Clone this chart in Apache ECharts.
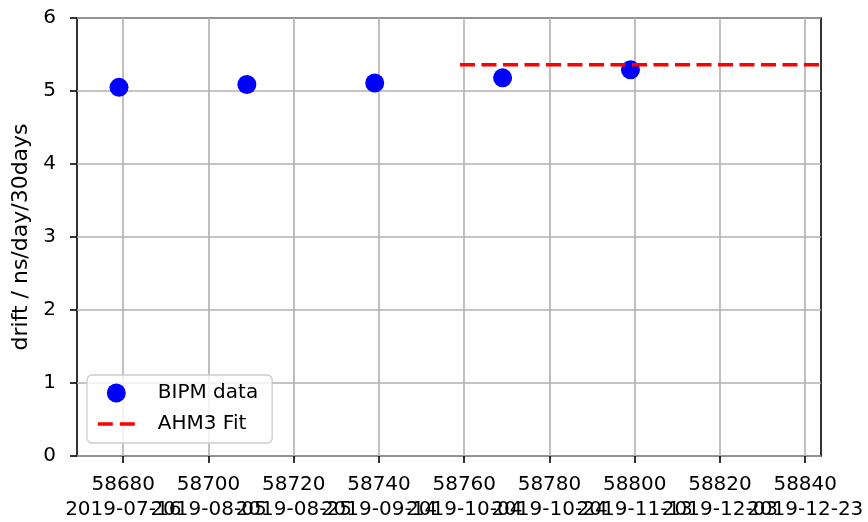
<!DOCTYPE html>
<html>
<head>
<meta charset="utf-8">
<script src="https://cdn.jsdelivr.net/npm/echarts@6/dist/echarts.min.js"></script>
<style>html,body{margin:0;padding:0;background:#fff}#c{width:868px;height:522px}</style>
</head>
<body>
<div id="c"></div>
<script>
// Data
const bipmMJD = [58679, 58709, 58739, 58769, 58799];
const bipmDrift = [5.05, 5.09, 5.11, 5.18, 5.29];
const fitMJD = [58759, 58844];
const fitDrift = [5.36, 5.36];
const xTicks = [58680, 58700, 58720, 58740, 58760, 58780, 58800, 58820, 58840];
const dateLabels = ['2019-07-16', '2019-08-05', '2019-08-25', '2019-09-14', '2019-10-04', '2019-10-24', '2019-11-13', '2019-12-03', '2019-12-23'];
const yTicks = [0, 1, 2, 3, 4, 5, 6];

const FONT = 'DejaVu Sans';
const FS = 20;
const XMIN = 58669.15, XMAX = 58843.7;
const LABEL_MARGIN = 19;

// date labels split over two label rows at identical position so none is dropped for overlap
const evenTicks = xTicks.filter((_, i) => i % 2 === 0);
const oddTicks = xTicks.filter((_, i) => i % 2 === 1);
const dateFmt = v => { const i = xTicks.indexOf(Math.round(v)); return i >= 0 ? dateLabels[i] : ''; };
function dateAxis(ticks) {
  return {
    type: 'value', min: XMIN, max: XMAX, position: 'bottom', offset: 25,
    axisLine: {show: false}, axisTick: {show: false, customValues: ticks}, splitLine: {show: false},
    axisLabel: {customValues: ticks, margin: LABEL_MARGIN, color: '#000', fontFamily: FONT, fontSize: FS,
      showMinLabel: true, showMaxLabel: true, hideOverlap: false, formatter: dateFmt}
  };
}

const chart = echarts.init(document.getElementById('c'), null, {renderer: 'canvas'});
chart.setOption({
  animation: false,
  backgroundColor: '#fff',
  textStyle: {fontFamily: FONT},
  grid: {left: 77, right: 47, top: 18, bottom: 66, containLabel: false, outerBoundsMode: 'none',
         show: true, borderColor: '#000', borderWidth: 1.6, backgroundColor: 'transparent'},
  legend: {
    orient: 'vertical', left: 87, top: 375,
    itemWidth: 37, itemHeight: 19, itemGap: 11,
    padding: [8, 14, 9, 9],
    backgroundColor: 'rgba(255,255,255,0.8)', borderColor: '#cccccc', borderWidth: 1.3, borderRadius: 5,
    textStyle: {fontFamily: FONT, fontSize: FS, lineHeight: 19, color: '#000', padding: [0, 0, 0, 18]},
    data: [
      {name: 'BIPM data', icon: 'circle'},
      {name: 'AHM3 Fit', itemStyle: {opacity: 0, color: 'rgba(0,0,0,0)'}, lineStyle: {color: '#ff0000', width: 3.6, type: [15, 7], opacity: 1}}
    ]
  },
  xAxis: [{
    type: 'value', min: XMIN, max: XMAX,
    axisLine: {show: false},
    axisTick: {show: true, length: 7, inside: false, customValues: xTicks, lineStyle: {color: '#000', width: 1.6}},
    axisLabel: {customValues: xTicks, margin: LABEL_MARGIN, color: '#000', fontFamily: FONT, fontSize: FS,
      showMinLabel: true, showMaxLabel: true, hideOverlap: false, formatter: v => String(v)},
    splitLine: {show: true, lineStyle: {color: '#b0b0b0', width: 1.6}}
  }, dateAxis(evenTicks), dateAxis(oddTicks)],
  yAxis: {
    type: 'value', min: 0, max: 6, interval: 1,
    name: 'drift / ns/day/30days', nameLocation: 'middle', nameGap: 39, nameRotate: 90,
    nameTextStyle: {fontFamily: FONT, fontSize: 22, color: '#000'},
    axisLine: {show: false},
    axisTick: {show: true, length: 7, lineStyle: {color: '#000', width: 1.6}},
    axisLabel: {margin: 21, color: '#000', fontFamily: FONT, fontSize: FS, formatter: v => yTicks.includes(v) ? String(v) : ''},
    splitLine: {show: true, lineStyle: {color: '#b0b0b0', width: 1.6}}
  },
  series: [{
    name: 'BIPM data', type: 'scatter', symbol: 'circle', symbolSize: 19,
    itemStyle: {color: '#0000ff', opacity: 1},
    data: bipmMJD.map((x, i) => [x, bipmDrift[i]]), z: 3
  }, {
    name: 'AHM3 Fit', type: 'line', symbol: 'none', clip: true,
    lineStyle: {color: '#ff0000', width: 3.6, type: [15, 6.5]},
    itemStyle: {color: '#ff0000'},
    data: fitMJD.map((x, i) => [x, fitDrift[i]]), z: 4
  }]
});
</script>
</body>
</html>
